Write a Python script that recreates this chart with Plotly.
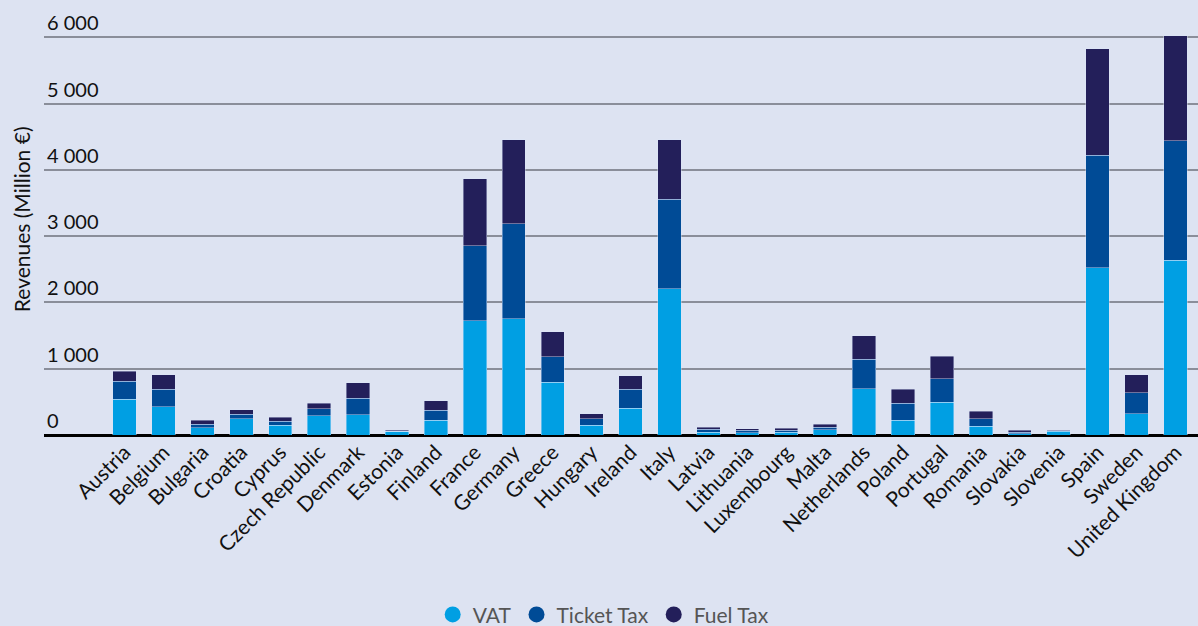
import plotly.graph_objects as go

countries = ["Austria", "Belgium", "Bulgaria", "Croatia", "Cyprus", "Czech Republic",
             "Denmark", "Estonia", "Finland", "France", "Germany", "Greece", "Hungary",
             "Ireland", "Italy", "Latvia", "Lithuania", "Luxembourg", "Malta",
             "Netherlands", "Poland", "Portugal", "Romania", "Slovakia", "Slovenia",
             "Spain", "Sweden", "United Kingdom"]
vat = [543, 423, 106, 246, 151, 287, 302, 55, 226, 1721, 1751, 795, 151, 403, 2204,
       40, 35, 45, 80, 699, 226, 498, 131, 20, 55, 2521, 322, 2637]
ticket_tax = [272, 271, 60, 71, 56, 110, 256, 5, 151, 1132, 1434, 387, 91, 291, 1354,
              45, 35, 25, 35, 448, 252, 352, 111, 20, 8, 1700, 312, 1801]
fuel_tax = [151, 216, 56, 65, 60, 81, 232, 8, 141, 1016, 1272, 373, 80, 197, 899,
            30, 25, 30, 45, 352, 216, 337, 120, 30, 5, 1605, 276, 1585]
y_ticks = [0, 1000, 2000, 3000, 4000, 5000, 6000]

series = [("VAT", vat, "#009fe3"), ("Ticket Tax", ticket_tax, "#004b96"), ("Fuel Tax", fuel_tax, "#231f5a")]

FONT = "Lato"
fig = go.Figure()
for name, vals, col in series:
    fig.add_trace(go.Bar(x=countries, y=vals, name=name, marker_color=col,
                         marker_line=dict(color="rgba(220,228,250,0.7)", width=0.6),
                         showlegend=False))
for name, vals, col in series:
    fig.add_trace(go.Scatter(x=[None], y=[None], mode="markers", name=name,
                             marker=dict(color=col, size=22, symbol="circle")))

fig.update_layout(
    width=1198, height=626,
    margin=dict(l=44, r=0, t=5, b=191, autoexpand=False),
    paper_bgcolor="#dde3f2", plot_bgcolor="#dde3f2",
    barmode="stack", bargap=0.4,
    separators=". ",
    font=dict(family=FONT, size=19, color="#1a1a1a"),
    legend=dict(orientation="h", x=0.485, xanchor="center",
                yref="container", y=0.018, yanchor="middle",
                traceorder="normal",
                font=dict(size=21, color="#555555"), itemsizing="trace",
                bgcolor="rgba(0,0,0,0)"),
)
fig.update_xaxes(range=[-2.07, 27.58], tickangle=-45, showgrid=False,
                 showline=False, zeroline=False, ticks="", automargin=False,
                 tickfont=dict(family=FONT, size=21, color="#111111"))
fig.update_yaxes(range=[0, 6490], tickvals=y_ticks, tickformat=",d",
                 ticklabelposition="inside top", showgrid=True, automargin=False,
                 gridcolor="#8a8e9a", gridwidth=1.5, zeroline=True,
                 zerolinecolor="#000000", zerolinewidth=2.5, showline=False,
                 tickfont=dict(family=FONT, size=20, color="#111111"))
fig.add_annotation(text="Revenues (Million €)", xref="paper", yref="paper",
                   x=-0.0199, y=0.502, xanchor="center", yanchor="middle",
                   textangle=-90, showarrow=False,
                   font=dict(family=FONT, size=21, color="#111111"))
fig.write_html("out.html", config={"displayModeBar": False},
               post_script="document.body.style.margin='0';document.body.style.padding='0';document.body.style.overflow='hidden';")
